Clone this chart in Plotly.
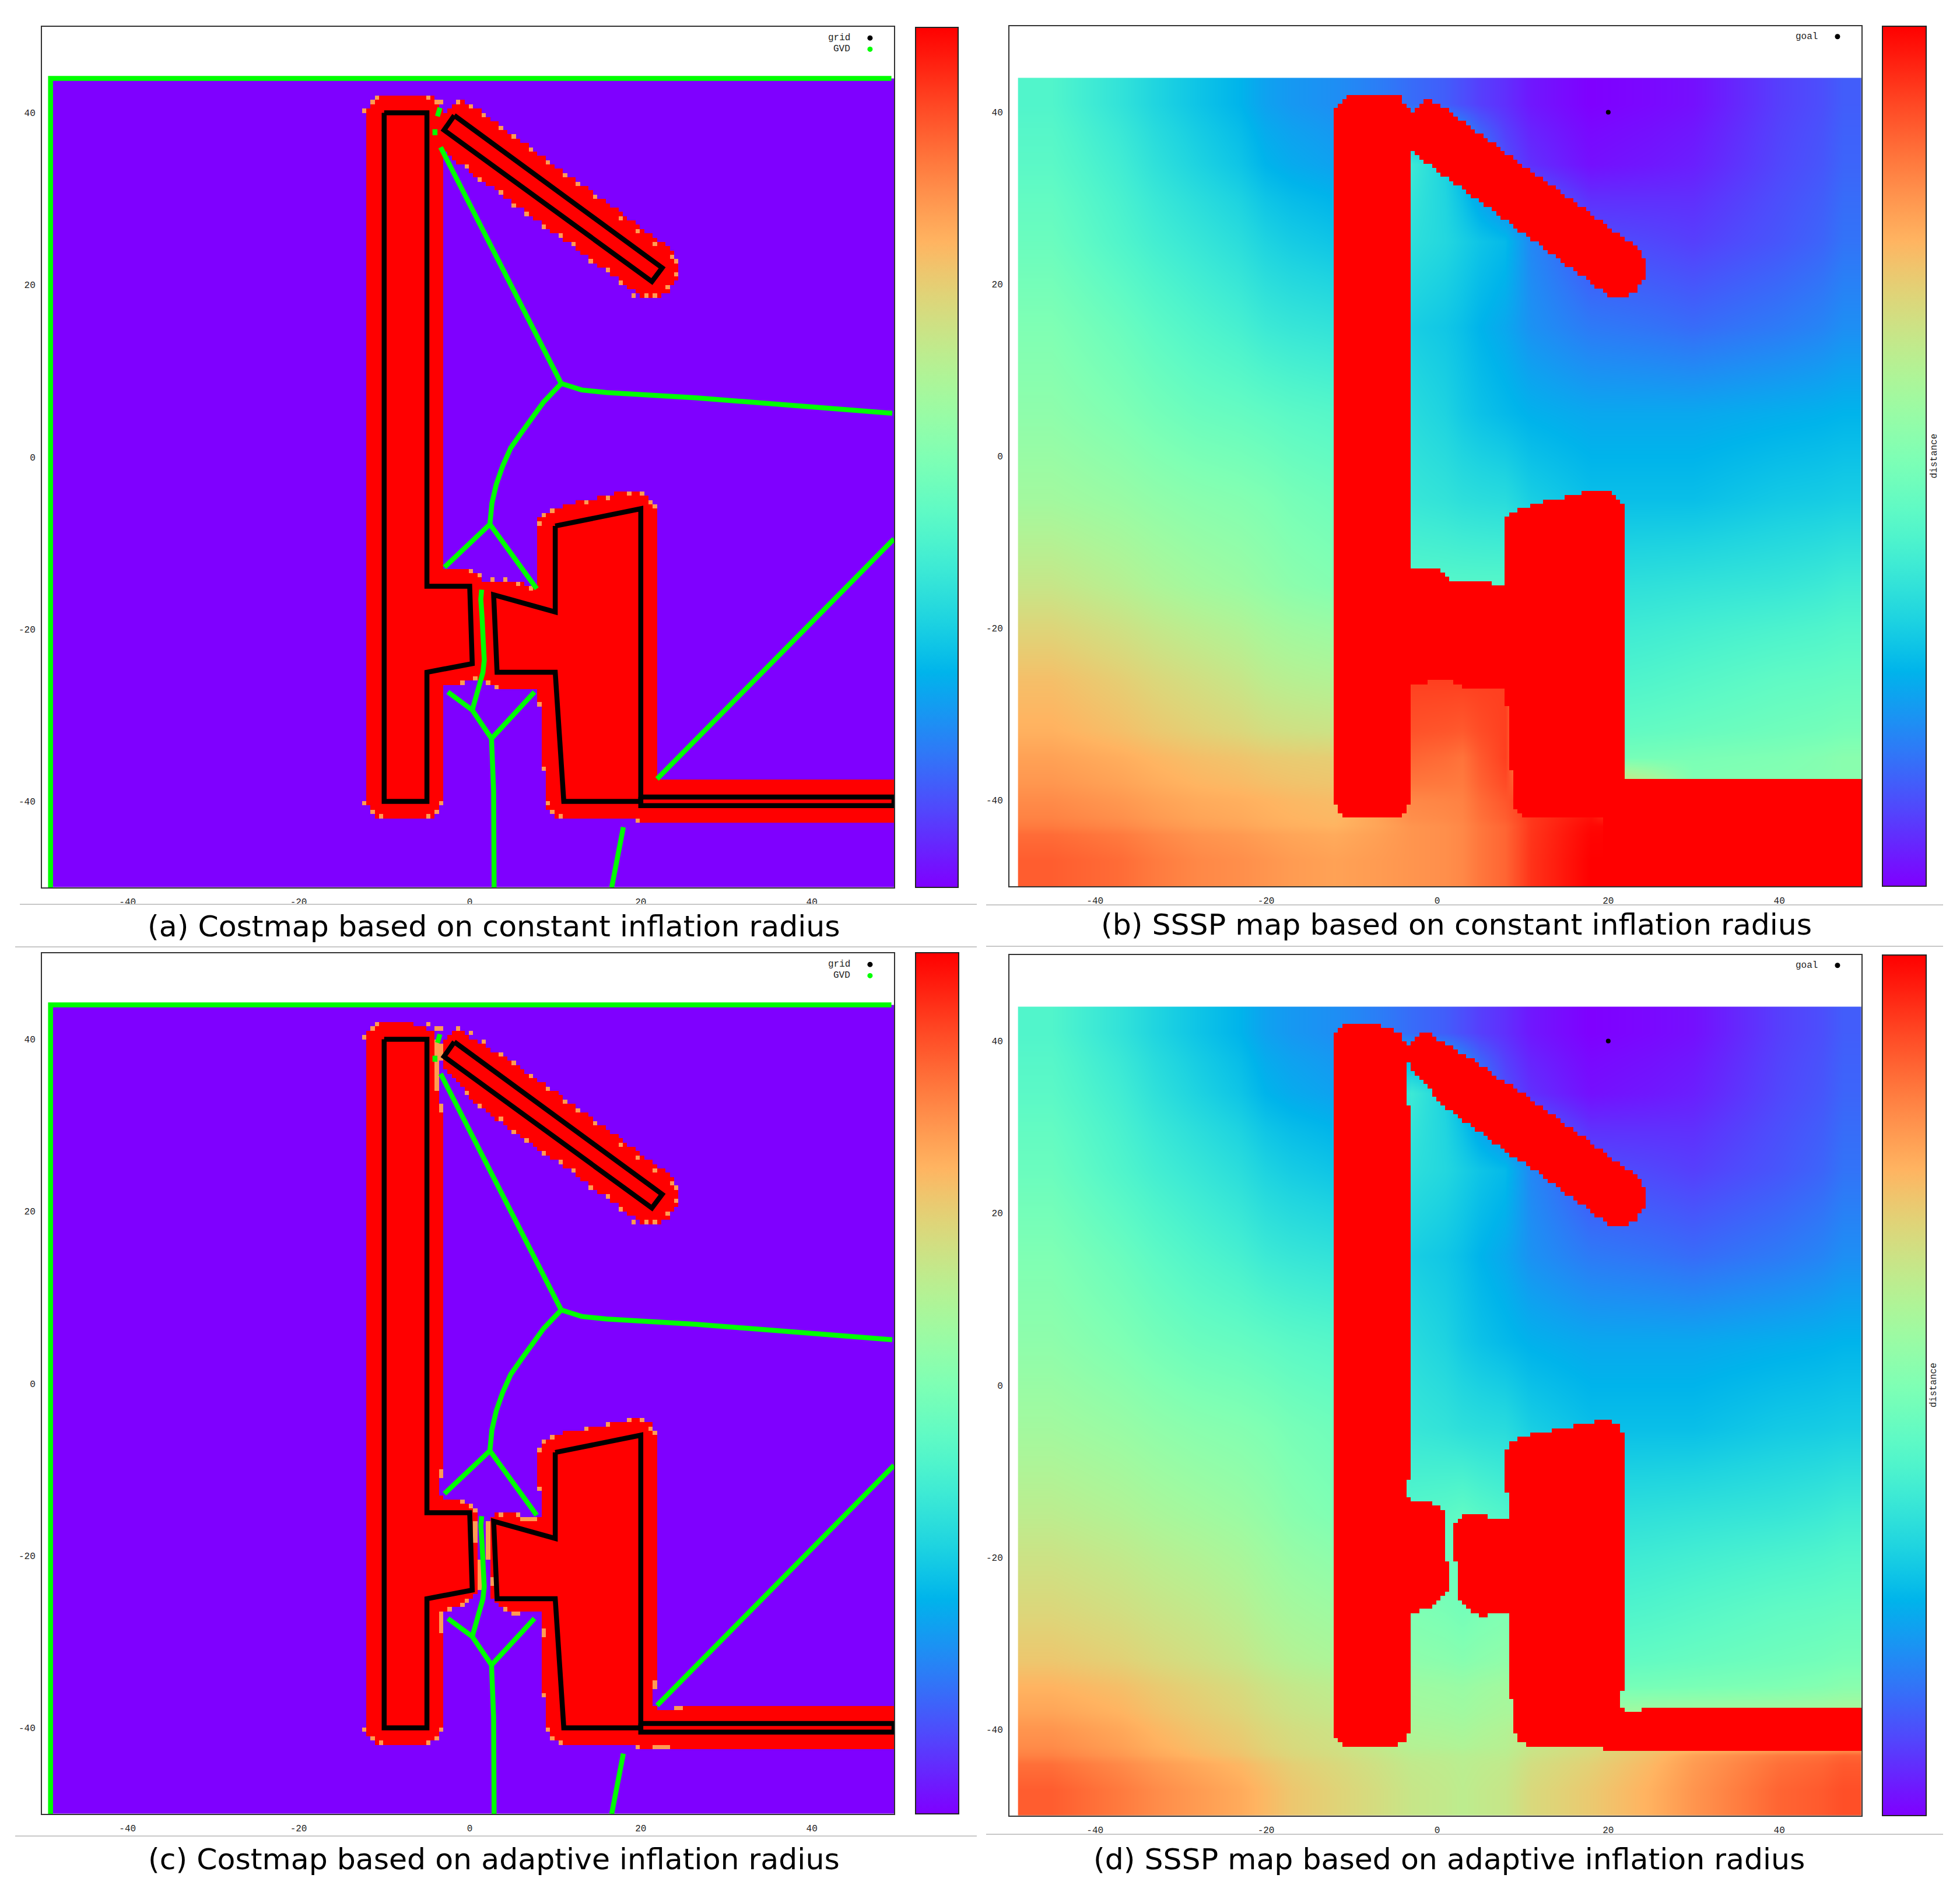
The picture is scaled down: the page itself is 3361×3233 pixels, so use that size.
import numpy as np
import plotly.graph_objects as go

# the page keeps the browser's 8px body margin, so the figure is drawn 8px smaller
PAGE_MARGIN = 8
WIDTH, HEIGHT = 3361 - PAGE_MARGIN, 3233 - PAGE_MARGIN

x_ticks = [-40, -20, 0, 20, 40]
y_ticks = [-40, -20, 0, 20, 40]
tick_labels = ["-40", "-20", "0", "20", "40"]

captions = [
    "(a) Costmap based on constant inflation radius",
    "(b) SSSP map based on constant inflation radius",
    "(c) Costmap based on adaptive inflation radius",
    "(d) SSSP map based on adaptive inflation radius",
]

goal_xy = (20, 40)

# obstacles ("grid" points), same in the four maps of this scene
wall_outline = [(-10, 40), (-5, 40), (-5, -15), (0, -15), (0.3, -24), (-5, -25), (-5, -40), (-10, -40), (-10, 40)]
arm_outline = [(-1.8, 39.7), (22.5, 22), (21.3, 20.4), (-3, 38), (-1.8, 39.7)]
block_outline = [(10, -8), (20, -6), (20, -40), (11, -40), (10, -25), (3.2, -25), (2.8, -16), (10, -18), (10, -8)]
bar_outline = [(20, -39.5), (49.6, -39.5), (49.6, -40.5), (20, -40.5), (20, -39.5)]

# GVD branches
gvd_branches = [
    [(-49, -50), (-49, 44), (49.3, 44)],
    [(-3.4, 36), (10.7, 8.55)],
    [(10.7, 8.55), (13.1, 7.8), (16, 7.5), (26.4, 6.9), (49.4, 5.1)],
    [(10.7, 8.55), (8.64, 6.4), (6.05, 2.85), (4.8, 1.07), (3.84, -1.07), (3.1, -3.2), (2.6, -5.35), (2.36, -7.8)],
    [(-2.95, -12.8), (2.36, -7.8), (7.83, -15.3)],
    [(-3.47, 40.6), (-3.77, 39.6)],
    [(-4.06, 38.1), (-4.06, 37.4)],
    [(1.4, -15.4), (1.3, -16.5), (1.45, -18.7), (1.63, -21.4), (1.7, -23.6), (1.55, -25), (0.3, -29.4)],
    [(-2.55, -27.3), (0.3, -29.4), (2.55, -32.7), (7.57, -27.3)],
    [(2.55, -32.7), (2.6, -35.2), (2.8, -38.8), (2.85, -50)],
    [(17.96, -43), (17.3, -46.5), (16.6, -50)],
    [(21.9, -37.4), (49.6, -9.5)],
]

# inflated area, constant radius
wall_red_const = [(-12.2, 40), (-11.7, 41), (-11, 41.5), (-10.5, 42), (-4.6, 42), (-3.9, 41.3), (-3.1, 40.3),
                  (-3.1, -40.3), (-3.9, -41.4), (-4.6, -42), (-10.5, -42), (-11.5, -41.4), (-12.2, -40)]
arm_red_const = [(-3.2, 39.2), (-2.6, 40.5), (-1.7, 41.4), (-0.6, 41.4), (1, 40.4), (5.8, 36.9), (8.7, 34.8),
                 (11.6, 32.7), (15.3, 30.1), (18.5, 27.8), (21.8, 25.4), (23.7, 24), (24.3, 22.9), (24.3, 21),
                 (23.3, 19.2), (22.2, 18.5), (20.4, 18.5), (19.3, 19.2), (17.1, 20.8), (14.2, 22.9), (10.9, 25.3),
                 (7.2, 28), (3.6, 30.6), (-0.8, 33.8), (-3.2, 35.6)]
block_red_const = [(-3.2, -13.1), (0.3, -13.1), (1.3, -14.4), (5, -14.4), (7.8, -15), (7.9, -7.8), (8.3, -6.8),
                   (9.4, -6.1), (13.4, -5), (16, -4.5), (18.3, -4), (20.4, -4.2), (21.7, -5.6), (21.7, -37.5),
                   (50, -37.5), (50, -42.6), (19.3, -42.6), (19.3, -42.1), (10.4, -42), (9.4, -41.5), (8.8, -40.4),
                   (8.8, -36.4), (8.25, -36.3), (8.25, -28.8), (7.8, -28.8), (7.8, -27.1), (3.4, -27.1),
                   (2.35, -26.6), (0.9, -25.7), (-1, -26.2), (-3.2, -26.6)]
# in the SSSP map the distance is saturated below the long bar
saturated_const = [(19.5, -42), (50, -42), (50, -50), (19.5, -50)]

# inflated area, adaptive radius
wall_red_adapt = [(-12.1, 40.6), (-11.5, 41.3), (-10.6, 42), (-6.67, 42), (-6.67, 41.5), (-5.1, 41.5), (-5.1, 41),
                  (-4.15, 41), (-4.15, 40), (-3.65, 40), (-3.65, 32.6), (-3.1, 32.6), (-3.1, -11), (-3.6, -11),
                  (-3.6, -13), (-3.1, -13.5), (-0.67, -13.5), (-0.67, -14), (0.3, -14), (0.3, -14.5), (0.9, -14.5),
                  (0.9, -20.5), (1.37, -20.5), (1.37, -24.1), (0.9, -24.1), (0.9, -24.5), (0.3, -24.5), (0.3, -25),
                  (-0.1, -25), (-0.1, -25.6), (-0.67, -25.6), (-0.67, -26), (-2.1, -26), (-2.1, -26.5), (-3.1, -26.5),
                  (-3.1, -40.5), (-3.6, -40.5), (-3.6, -41.5), (-4.55, -41.5), (-4.55, -42), (-10.6, -42),
                  (-11.5, -41.5), (-12.1, -40.4)]
arm_red_adapt = [(-3.65, 37.6), (-3.65, 39.5), (-3.1, 39.5), (-3.1, 40), (-2.7, 40), (-2.7, 40.5), (-2.15, 40.5),
                 (-2.15, 41), (-1.15, 41), (0.3, 40), (1.3, 39.5), (2.9, 38.5), (5.4, 37), (7.3, 35.5), (9.3, 34.5),
                 (11.6, 32.7), (15.3, 30.1), (18.5, 27.8), (21.8, 25.4), (23.7, 24), (24.3, 22.9), (24.3, 21),
                 (23.3, 19.2), (22.2, 18.5), (20.4, 18.5), (19.3, 19.2), (17.1, 20.8), (14.2, 22.9), (10.9, 25.3),
                 (8.9, 26.5), (6.3, 28.5), (3.4, 30.5), (1.3, 32), (-0.65, 34), (-2.15, 36), (-3.1, 37)]
block_red_adapt = [(1.87, -20.5), (1.87, -16), (2.4, -16), (2.4, -15.5), (2.85, -15.5), (2.85, -15), (5.8, -15),
                   (5.8, -15.5), (8.33, -15.5), (8.33, -12.5), (7.9, -12.5), (7.9, -7.4), (8.33, -7.4), (8.33, -6.5),
                   (9.4, -6.5), (9.4, -6), (10.75, -6), (10.75, -5.5), (13.4, -5.5), (13.4, -5), (15.8, -5),
                   (15.8, -4.5), (18.3, -4.5), (18.3, -4), (20.3, -4), (20.3, -4.5), (21.3, -4.5), (21.3, -5.5),
                   (21.8, -5.5), (21.8, -35.5), (21.3, -35.5), (21.3, -37.5), (21.8, -37.5), (21.8, -38), (23.8, -38),
                   (23.8, -37.5), (50, -37.5), (50, -42.6), (19.3, -42.6), (19.3, -42), (10.4, -42), (10.4, -41.5),
                   (9.4, -41.5), (9.4, -40.5), (8.85, -40.5), (8.85, -36.5), (8.33, -36.5), (8.33, -26.5), (5.8, -26.5),
                   (5.8, -27), (4.8, -27), (4.8, -26.5), (3.9, -26.5), (3.9, -26), (3.4, -26), (3.4, -25.6),
                   (2.85, -25.6), (2.85, -25), (2.4, -25), (2.4, -20.5)]

# orange cells on the rim of the inflated area
rim_cells_common = [
    (-12.2, 40.5), (-11.4, 41.2), (-10.7, 41.8), (-4.7, 41.8), (-3.9, 41.1),
    (-3.2, 41.1), (-1.2, 41.4), (0.15, 40.9), (1.4, 39.8), (3.5, 38.4), (5.3, 37.1), (7.2, 35.7), (9, 34.2),
    (10.9, 32.8), (12.7, 31.7), (14.5, 30.3), (17.9, 27.8), (19.9, 26.2), (21.9, 24.6), (23.6, 23.5),
    (-0.6, 34), (1.25, 32.4), (3.5, 30.7), (5.3, 29.2), (6.8, 28.5), (8.6, 26.9), (10.5, 25.9), (12, 24.6),
    (14.2, 22.8), (16, 21.7), (17.9, 20.3), (19.3, 19), (20.6, 18.6), (21.9, 18.6), (23.3, 19.6), (24, 21.2),
    (24.2, 22.6), (8, -7.8), (8.4, -6.8), (9.5, -6.2), (13.4, -5.2), (16.2, -4.7), (18.6, -4.2), (20, -4.2),
    (21, -5), (21.5, -5.8), (-12.2, -40.3), (-11.5, -41.3), (-10.4, -41.8), (-3.4, -40.3), (-3.9, -41.3),
    (-4.9, -41.8), (9.05, -40.3), (9.57, -41.3), (10.5, -41.8), (19.5, -42.3), (8.48, -36.3),
]
rim_cells_const = [
    (0.05, -13.3), (1.03, -13.8), (2.58, -14.3), (4.1, -14.3), (5.58, -14.8), (7.35, -15.4), (-0.94, -26.3),
    (0.53, -25.8), (2.08, -26.3), (3.08, -26.8), (8.03, -28.8),
]
rim_cells_adapt = [
    (-3.9, 39.75), (-3.9, 39.25), (-3.9, 38.75), (-3.9, 38.25), (-3.9, 37.75), (-3.9, 37.25), (-3.9, 36.75),
    (-3.9, 36.25), (-3.9, 35.75), (-3.9, 35.25), (-3.9, 34.75), (-3.9, 34.25), (-3.4, 39.25), (-3.4, 38.75),
    (-3.4, 38.25), (-3.4, 37.75), (-3.4, 32.4), (-3.4, 31.9), (-3.4, -10.3), (-3.4, -10.8), (-0.94, -13.75),
    (0.05, -14.3), (0.53, -14.8), (0.53, -16.4), (0.53, -16.9), (0.53, -17.4), (0.53, -17.9), (0.53, -18.4),
    (2.1, -16.2), (2.1, -16.7), (2.1, -17.2), (2.1, -17.7), (2.1, -18.2), (2.1, -18.7), (2.1, -19.2), (2.1, -19.7),
    (2.1, -20.2), (1.03, -20.8), (1.03, -21.3), (1.03, -21.8), (1.03, -22.3), (1.03, -22.8), (1.03, -23.3),
    (1.03, -23.8), (2.58, -22.8), (2.58, -23.3), (3.6, -15.25), (5.58, -15.25), (6.3, -15.8), (6.8, -15.8),
    (7.3, -15.8), (7.8, -15.8), (8.03, -12.2), (-0.42, -25.3), (-0.94, -25.8), (-2.46, -26.3), (-3.4, -26.8),
    (-3.4, -27.3), (-3.4, -27.8), (-3.4, -28.3), (-3.4, -28.8), (4.05, -26.3), (4.9, -26.8), (5.4, -26.8),
    (8.5, -28.7), (8.5, -29.2), (21.47, -34.8), (21.47, -35.3), (24, -37.8), (24.5, -37.8), (21.9, -42.3),
    (22.4, -42.3), (22.9, -42.3), (23.4, -42.3), (-3.4, 32.2),
]

# distance, rows from top to bottom
dist_col_edges = [-49, -41, -33, -23, -17, -7, 1, 5, 11, 25, 35, 45, 50]
dist_row_edges = [44, 38, 30, 20, 10, 0, -10, -20, -32, -38, -42, -44, -50]
dist_const = [
    [0.41, 0.35, 0.28, 0.22, 0.19, 0.14, 0.10, 0.06, 0.00, 0.02, 0.08, 0.12],
    [0.43, 0.38, 0.31, 0.25, 0.22, 0.37, 0.25, 0.10, 0.02, 0.04, 0.09, 0.13],
    [0.46, 0.41, 0.36, 0.31, 0.28, 0.34, 0.30, 0.26, 0.10, 0.08, 0.11, 0.15],
    [0.50, 0.46, 0.41, 0.37, 0.35, 0.30, 0.27, 0.23, 0.16, 0.14, 0.16, 0.19],
    [0.53, 0.50, 0.46, 0.44, 0.42, 0.33, 0.29, 0.26, 0.23, 0.23, 0.24, 0.25],
    [0.57, 0.55, 0.52, 0.50, 0.47, 0.36, 0.34, 0.33, 0.27, 0.27, 0.29, 0.30],
    [0.64, 0.61, 0.57, 0.54, 0.51, 0.42, 0.42, 0.42, 0.34, 0.35, 0.36, 0.38],
    [0.73, 0.70, 0.66, 0.62, 0.60, 0.92, 0.92, 0.92, 0.40, 0.42, 0.44, 0.45],
    [0.78, 0.76, 0.73, 0.71, 0.70, 0.87, 0.85, 0.92, 0.48, 0.49, 0.50, 0.52],
    [0.815, 0.795, 0.765, 0.75, 0.735, 0.82, 0.83, 0.89, 0.97, 0.52, 0.52, 0.52],
    [0.84, 0.82, 0.785, 0.765, 0.75, 0.80, 0.82, 0.87, 0.99, 1.00, 1.00, 1.00],
    [0.88, 0.86, 0.82, 0.80, 0.78, 0.80, 0.82, 0.87, 1.00, 1.00, 1.00, 1.00],
]
dist_adapt = [
    [0.41, 0.35, 0.28, 0.22, 0.19, 0.14, 0.10, 0.06, 0.00, 0.02, 0.08, 0.12],
    [0.43, 0.38, 0.31, 0.25, 0.22, 0.37, 0.25, 0.10, 0.02, 0.04, 0.09, 0.13],
    [0.46, 0.41, 0.36, 0.31, 0.28, 0.34, 0.30, 0.26, 0.10, 0.08, 0.11, 0.15],
    [0.50, 0.46, 0.41, 0.37, 0.35, 0.30, 0.27, 0.23, 0.16, 0.14, 0.16, 0.19],
    [0.53, 0.50, 0.46, 0.44, 0.42, 0.33, 0.29, 0.26, 0.23, 0.23, 0.24, 0.25],
    [0.57, 0.55, 0.52, 0.50, 0.47, 0.36, 0.34, 0.33, 0.27, 0.27, 0.29, 0.30],
    [0.62, 0.60, 0.57, 0.54, 0.50, 0.42, 0.44, 0.41, 0.34, 0.35, 0.36, 0.38],
    [0.68, 0.66, 0.63, 0.59, 0.56, 0.50, 0.48, 0.50, 0.40, 0.42, 0.44, 0.45],
    [0.75, 0.73, 0.69, 0.65, 0.62, 0.56, 0.55, 0.57, 0.48, 0.49, 0.50, 0.52],
    [0.80, 0.77, 0.72, 0.68, 0.65, 0.59, 0.58, 0.60, 0.66, 0.66, 0.66, 0.66],
    [0.83, 0.795, 0.745, 0.70, 0.665, 0.62, 0.61, 0.62, 0.68, 0.78, 0.84, 0.87],
    [0.88, 0.84, 0.79, 0.74, 0.69, 0.64, 0.62, 0.64, 0.71, 0.80, 0.87, 0.90],
]

# gnuplot "rgbformulae 33,13,10"
colorscale = []
for i in range(33):
    t = i / 32
    colorscale.append([t, "rgb(%d,%d,%d)" % (255 * abs(2 * t - 0.5), 255 * np.sin(np.pi * t), 255 * np.cos(np.pi * t / 2))])

# grid of the maps, cells of half a unit
cell_x = np.arange(-48.85, 50, 0.5)
cell_y = np.arange(-49.75, 44, 0.5)
grid_x, grid_y = np.meshgrid(cell_x, cell_y)


def inside(poly):
    hit = np.zeros(grid_x.shape, dtype=bool)
    for (x1, y1), (x2, y2) in zip(poly, poly[1:] + poly[:1]):
        if y1 == y2:
            continue
        crosses = (y1 > grid_y) != (y2 > grid_y)
        hit ^= crosses & (grid_x < x1 + (grid_y - y1) * (x2 - x1) / (y2 - y1))
    return hit


def costmap(polys, cells):
    z = np.zeros(grid_x.shape)
    for poly in polys:
        z[inside(poly)] = 1.0
    for x, y in cells:
        z[np.abs(cell_y - y).argmin(), np.abs(cell_x - x).argmin()] = 0.79
    return z


def red_layer(polys):
    z = np.full(grid_x.shape, np.nan)
    for poly in polys:
        z[inside(poly)] = 1.0
    return z


def px(x):
    return (x - PAGE_MARGIN) / WIDTH


def py(y):
    return 1 - (y - PAGE_MARGIN) / HEIGHT


# left, right, top, bottom of the frame, then of the colour bar, all in pixels
panels = [
    dict(frame=(72, 1533, 46, 1522), bar=(1570, 1643, 47, 1522), cap=(847, 1589)),
    dict(frame=(1731, 3192, 45, 1520), bar=(3228, 3303, 45, 1520), cap=(2497, 1586)),
    dict(frame=(72, 1533, 1635, 3111), bar=(1570, 1644, 1634, 3111), cap=(847, 3188)),
    dict(frame=(1731, 3192, 1638, 3114), bar=(3228, 3303, 1638, 3114), cap=(2485, 3188)),
]

fig = go.Figure()
layout = dict(
    width=WIDTH, height=HEIGHT, autosize=False, margin=dict(l=0, r=0, t=0, b=0, pad=0),
    paper_bgcolor="white", plot_bgcolor="white", showlegend=False, annotations=[], shapes=[],
)
mono = dict(family="Liberation Mono", size=16, color="#222222")


def bar_settings(p):
    left, right, top, bottom = p["bar"]
    return dict(x=px(left), xanchor="left", y=py((top + bottom) / 2), yanchor="middle", thickness=right - left,
                thicknessmode="pixels", len=bottom - top, lenmode="pixels", xpad=0, ypad=0, outlinewidth=2,
                outlinecolor="#222222", showticklabels=False, ticks="")


for n, p in enumerate(panels):
    xa, ya = "x%d" % (n + 1), "y%d" % (n + 1)
    left, right, top, bottom = p["frame"]
    tick_style = dict(tickmode="array", ticktext=tick_labels, ticks="outside", tickcolor="rgba(0,0,0,0)",
                      tickfont=mono, showgrid=False, zeroline=False,
                      showline=True, mirror=True, linecolor="#333333", linewidth=2)
    layout["xaxis%d" % (n + 1)] = dict(domain=[px(left), px(right)], range=[-50, 49.6], anchor=ya, tickvals=x_ticks,
                                       ticklen=9, **tick_style)
    layout["yaxis%d" % (n + 1)] = dict(domain=[py(bottom), py(top)], range=[-50, 50], anchor=xa, tickvals=y_ticks,
                                       ticklen=6, **tick_style)

    is_const = n < 2
    walls = [wall_red_const, arm_red_const, block_red_const] if is_const else [wall_red_adapt, arm_red_adapt, block_red_adapt]

    if n % 2 == 0:
        rim = rim_cells_common + (rim_cells_const if is_const else rim_cells_adapt)
        fig.add_trace(go.Heatmap(x=cell_x, y=cell_y, z=costmap(walls, rim), zmin=0, zmax=1, colorscale=colorscale,
                                 colorbar=bar_settings(p), hoverinfo="skip", xaxis=xa, yaxis=ya))
        for branch in gvd_branches:
            fig.add_trace(go.Scatter(x=[q[0] for q in branch], y=[q[1] for q in branch], mode="lines",
                                     line=dict(color="#00ff00", width=8.5), hoverinfo="skip", xaxis=xa, yaxis=ya))
        for outline in [wall_outline, arm_outline, block_outline, bar_outline]:
            fig.add_trace(go.Scatter(x=[q[0] for q in outline], y=[q[1] for q in outline], mode="lines",
                                     line=dict(color="black", width=8.5), hoverinfo="skip", xaxis=xa, yaxis=ya))
        legend = [("grid", 48.7, "black"), ("GVD", 47.4, "#00ff00")]
    else:
        table = np.array(dist_const if is_const else dist_adapt)[::-1]
        red_polys = walls + [saturated_const] if is_const else walls
        fig.add_trace(go.Heatmap(x=dist_col_edges, y=dist_row_edges[::-1], z=table, zmin=0, zmax=1, zsmooth="best",
                                 colorscale=colorscale, colorbar=bar_settings(p), hoverinfo="skip", xaxis=xa, yaxis=ya))
        fig.add_trace(go.Heatmap(x=cell_x, y=cell_y, z=red_layer(red_polys), zmin=0, zmax=1, colorscale=colorscale,
                                 showscale=False, hoverinfo="skip", xaxis=xa, yaxis=ya))
        fig.add_trace(go.Scatter(x=[goal_xy[0]], y=[goal_xy[1]], mode="markers", marker=dict(color="black", size=8),
                                 hoverinfo="skip", xaxis=xa, yaxis=ya))
        legend = [("goal", 48.8, "black")]
        layout["annotations"].append(dict(text="distance", xref="paper", yref="paper", x=px(3316), y=py((top + bottom) / 2),
                                          xanchor="center", yanchor="middle", textangle=-90, showarrow=False, font=mono))

    for label, y, color in legend:
        fig.add_trace(go.Scatter(x=[46.8], y=[y], mode="markers", marker=dict(color=color, size=9), hoverinfo="skip",
                                 xaxis=xa, yaxis=ya))
        layout["annotations"].append(dict(text=label, xref=xa, yref=ya, x=44.6, y=y, xanchor="right", showarrow=False,
                                          font=mono))

    layout["annotations"].append(dict(text=captions[n], xref="paper", yref="paper", x=px(p["cap"][0]), y=py(p["cap"][1]),
                                      xanchor="center", yanchor="middle", showarrow=False,
                                      font=dict(family="DejaVu Sans", size=50.5, color="black")))

# thin rules around the captions
for x0, x1, y in [(34, 1675, 1551), (26, 1675, 1624), (26, 1675, 3149), (1691, 3332, 1552), (1691, 3332, 1623), (1691, 3332, 3146)]:
    layout["shapes"].append(dict(type="line", xref="paper", yref="paper", x0=px(x0), x1=px(x1), y0=py(y), y1=py(y),
                                 line=dict(color="#c8c8c8", width=2)))

fig.update_layout(**layout)
fig.write_html("out.html")
